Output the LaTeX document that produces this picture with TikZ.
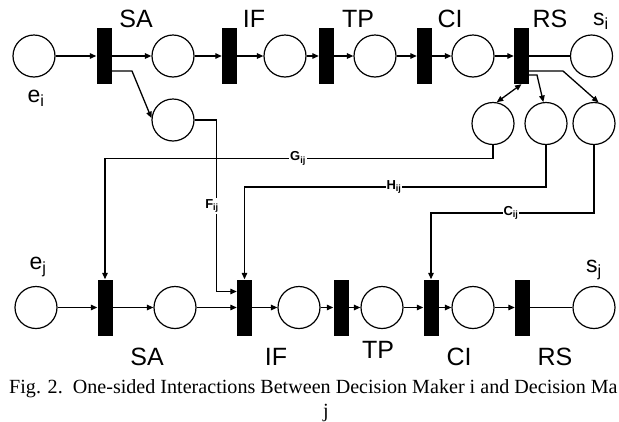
\documentclass[tikz,border=0pt]{standalone}
\usepackage{fontspec}
\setmainfont{Liberation Sans}
\newfontfamily\capfont{Liberation Serif}
\usetikzlibrary{arrows.meta}
\begin{document}
\begin{tikzpicture}[x=1pt,y=-1pt,
  place/.style={circle,draw,line width=1.2pt,minimum size=42pt,inner sep=0pt},
  trans/.style={rectangle,fill=black,minimum width=15pt,minimum height=56pt,inner sep=0pt},
  arr/.style={line width=1.3pt,-{Triangle[length=6.5pt,width=5.5pt]}},
  darr/.style={line width=1.3pt,{Triangle[length=6.5pt,width=5.5pt]}-{Triangle[length=6.5pt,width=5.5pt]}},
  ln/.style={line width=1.3pt},
  stage/.style={font=\fontsize{25}{27}\selectfont,inner sep=0pt},
  elab/.style={font=\fontsize{23}{25}\selectfont,inner sep=0pt},
  clab/.style={font=\fontsize{13}{14}\selectfont\bfseries,fill=white,inner sep=1pt},
  captext/.style={inner sep=0pt,font=\capfont\fontsize{20.1}{22}\selectfont}]
\useasboundingbox (0,0) rectangle (619,421);
% top row
\node[place] (pei) at (34,56) {};
\node[trans] (tSAi) at (104,56) {};
\node[place] (p1) at (173,56) {};
\node[trans] (tIFi) at (229.5,56) {};
\node[place] (p2) at (285,56) {};
\node[trans] (tTPi) at (326.5,56) {};
\node[place] (p3) at (375,56) {};
\node[trans] (tCIi) at (424.5,56) {};
\node[place] (p4) at (473,56) {};
\node[trans] (tRSi) at (521.5,56) {};
\node[place] (psi) at (591.5,56) {};
\node[place] (pF) at (173,120) {};
\node[place] (pG) at (493,123.5) {};
\node[place] (pH) at (546,123.5) {};
\node[place] (pC) at (594,123.5) {};
% bottom row
\node[place] (pej) at (36,307.5) {};
\node[trans] (tSAj) at (105,307.5) {};
\node[place] (q1) at (175,307.5) {};
\node[trans] (tIFj) at (244.5,307.5) {};
\node[place] (q2) at (299,307.5) {};
\node[trans] (tTPj) at (341,307.5) {};
\node[place] (q3) at (382,307.5) {};
\node[trans] (tCIj) at (431,307.5) {};
\node[place] (q4) at (473,307.5) {};
\node[trans] (tRSj) at (522.5,307.5) {};
\node[place] (psj) at (594,307.5) {};
% labels
\node[stage] (lSAi) at (136,18.5) {SA};
\node[stage] (lIFi) at (254,18.5) {IF};
\node[stage] (lTPi) at (358,18.5) {TP};
\node[stage] (lCIi) at (450,18.5) {CI};
\node[stage] (lRSi) at (550,18.5) {RS};
\node[elab] (lsi) at (601,21) {s\textsubscript{i}};
\node[elab] (lei) at (36,98) {e\textsubscript{i}};
\node[elab] (lej) at (38,267) {e\textsubscript{j}};
\node[elab] (lsj) at (594,270) {s\textsubscript{j}};
\node[stage] (lSAj) at (147,357) {SA};
\node[stage] (lIFj) at (276,357) {IF};
\node[stage] (lTPj) at (378,350) {TP};
\node[stage] (lCIj) at (459,357) {CI};
\node[stage] (lRSj) at (555,357) {RS};
% top row arcs
\draw[arr] (pei) -- (tSAi);
\draw[arr] (tSAi) -- (p1);
\draw[arr] (p1) -- (tIFi);
\draw[arr] (tIFi) -- (p2);
\draw[arr] (p2) -- (tTPi);
\draw[arr] (tTPi) -- (p3);
\draw[arr] (p3) -- (tCIi);
\draw[arr] (tCIi) -- (p4);
\draw[arr] (p4) -- (tRSi);
\draw[ln] (tRSi) -- (psi);
% bottom row arcs
\draw[arr] (pej) -- (tSAj);
\draw[arr] (tSAj) -- (q1);
\draw[arr] (q1) -- (tIFj);
\draw[arr] (tIFj) -- (q2);
\draw[arr] (q2) -- (tTPj);
\draw[arr] (tTPj) -- (q3);
\draw[arr] (q3) -- (tCIj);
\draw[arr] (tCIj) -- (q4);
\draw[arr] (q4) -- (tRSj);
\draw[ln] (tRSj) -- (psj);
% branches
\coordinate (sa1) at (111.5,71);
\coordinate (sa2) at (132,71);
\draw[arr] (sa1) -- (sa2) -- (pF.175);
\draw[darr] (tRSi.south) -- (pG.80);
\coordinate (rh1) at (529,75);
\coordinate (rh2) at (537,75);
\draw[arr] (rh1) -- (rh2) -- (pH.97);
\coordinate (rc1) at (529,71);
\coordinate (rc2) at (563,71);
\draw[arr] (rc1) -- (rc2) -- (pC.78);
% interaction arcs
\coordinate (f1) at (216.7,120);
\coordinate (f2) at (216.7,291.5);
\draw[arr] (pF.east) -- (f1) -- (f2) -- (tIFj.west |- f2);
\node[clab] (lF) at (212,206) {F\textsubscript{ij}};
\coordinate (g1) at (493,158.5);
\coordinate (g2) at (105,158.5);
\draw[arr] (pG.south) -- (g1) -- (g2) -- (tSAj.north);
\node[clab] (lG) at (298,158.5) {G\textsubscript{ij}};
\coordinate (h1) at (546,187);
\coordinate (h2) at (244.5,187);
\draw[arr] (pH.south) -- (h1) -- (h2) -- (tIFj.north);
\node[clab] (lH) at (394,187) {H\textsubscript{ij}};
\coordinate (c1) at (594,213);
\coordinate (c2) at (431,213);
\draw[arr] (pC.south) -- (c1) -- (c2) -- (tCIj.north);
\node[clab] (lC) at (511,213) {C\textsubscript{ij}};
% caption
\node[captext,anchor=west] (cap1) at (9,389) {Fig. 2.\ \ One-sided Interactions Between Decision Maker i and Decision Ma};
\node[captext] (cap2) at (326,413) {j};
\end{tikzpicture}
\end{document}
